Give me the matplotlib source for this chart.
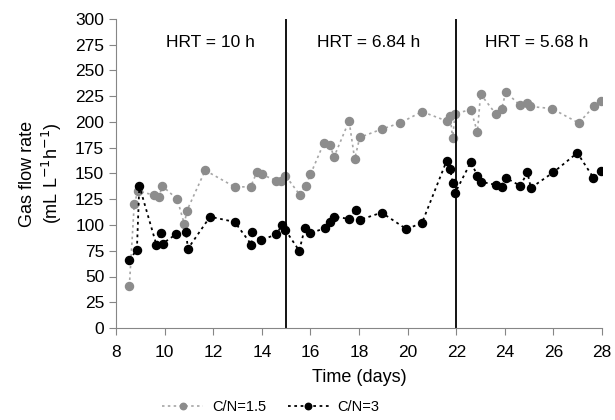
""" Gas flow rate vs time for two C/N ratios. """

import numpy as np
import matplotlib
matplotlib.use('Agg')
import matplotlib.pyplot as plt

plt.rcParams['font.family'] = ['Liberation Sans', 'DejaVu Sans']

# C/N = 1.5 (grey)
days_cn15 = [8.55, 8.75, 8.9, 9.56, 9.77, 9.9, 10.52, 10.81, 10.92, 11.67,
             12.88, 13.54, 13.79, 14.0, 14.6, 14.8, 14.97, 15.57, 15.8, 16.0,
             16.56, 16.8, 16.97, 17.59, 17.82, 18.03, 18.93, 19.69, 20.59, 21.6,
             21.75, 21.85, 21.95, 22.6, 22.87, 23.0, 23.62, 23.87, 24.04, 24.63,
             24.9, 25.04, 25.93, 27.04, 27.66, 27.96]
flow_cn15 = [41, 120, 133, 129, 127, 138, 125, 101, 114, 153,
             137, 137, 151, 149, 143, 143, 148, 129, 138, 149,
             180, 178, 166, 201, 164, 185, 193, 199, 210, 201,
             206, 184, 208, 212, 190, 227, 208, 213, 229, 216,
             218, 215, 213, 199, 215, 220]

# C/N = 3 (black)
days_cn3 = [8.55, 8.86, 8.96, 9.66, 9.86, 9.92, 10.47, 10.88, 10.96, 11.87,
            12.88, 13.57, 13.6, 13.95, 14.6, 14.83, 14.97, 15.54, 15.77, 16.0,
            16.6, 16.8, 16.97, 17.59, 17.88, 18.03, 18.93, 19.95, 20.59, 21.6,
            21.75, 21.85, 21.95, 22.6, 22.87, 23.0, 23.62, 23.87, 24.03, 24.63,
            24.93, 25.07, 25.99, 26.98, 27.64, 27.96]
flow_cn3 = [66, 76, 138, 81, 92, 82, 91, 93, 77, 108,
            103, 81, 93, 85, 91, 100, 95, 75, 97, 92,
            97, 103, 108, 106, 115, 105, 112, 96, 102, 162,
            154, 141, 131, 161, 148, 142, 139, 137, 146, 138,
            151, 136, 151, 170, 146, 152]

hrt_changes = [15, 22]
hrt_labels = ['HRT = 10 h', 'HRT = 6.84 h', 'HRT = 5.68 h']
hrt_label_x = [11.87, 18.4, 25.3]

fig = plt.figure(figsize=(6.15, 4.2), dpi=100)
ax = fig.add_subplot(111)
fig.subplots_adjust(left=0.1886, right=0.979, top=0.955, bottom=0.219)

ax.plot(days_cn15, flow_cn15, linestyle=(0, (1.5, 2)), color='#a6a6a6', lw=1.2,
        marker='o', ms=5.8, mfc='#8c8c8c', mec='#8c8c8c', label='C/N=1.5')
ax.plot(days_cn3, flow_cn3, linestyle=(0, (1.5, 2)), color='black', lw=1.3,
        marker='o', ms=5.8, mfc='black', mec='black', label='C/N=3')

# HRT boundaries
for xc in hrt_changes:
    ax.plot([xc, xc], [0, 300], color='black', lw=1.3)
for lbl, xl in zip(hrt_labels, hrt_label_x):
    ax.text(xl, 277, lbl, ha='center', va='center', fontsize=12.5)

ax.set_xlim(8, 28)
ax.set_ylim(0, 300)
ax.set_xticks(np.arange(8, 29, 2))
ax.set_yticks(np.arange(0, 301, 25))
ax.tick_params(axis='both', direction='out', length=5, color='#868686',
               labelsize=12.5, width=0.8)
ax.tick_params(axis='x', pad=7)
for s in ['top', 'right']:
    ax.spines[s].set_visible(False)
for s in ['left', 'bottom']:
    ax.spines[s].set_color('#868686')
    ax.spines[s].set_linewidth(0.8)

ax.set_xlabel('Time (days)', fontsize=13, labelpad=7)
ax.set_ylabel('Gas flow rate\n(mL L$^{-1}$h$^{-1}$)', fontsize=13, labelpad=8)

ax.legend(loc='center', bbox_to_anchor=(271 / 615, 13 / 420),
          bbox_transform=fig.transFigure, ncol=2, frameon=False,
          fontsize=10.5, columnspacing=1.5, handlelength=2.8, markerscale=0.8,
          handletextpad=0.6)

fig.savefig('out.png', dpi=100)
